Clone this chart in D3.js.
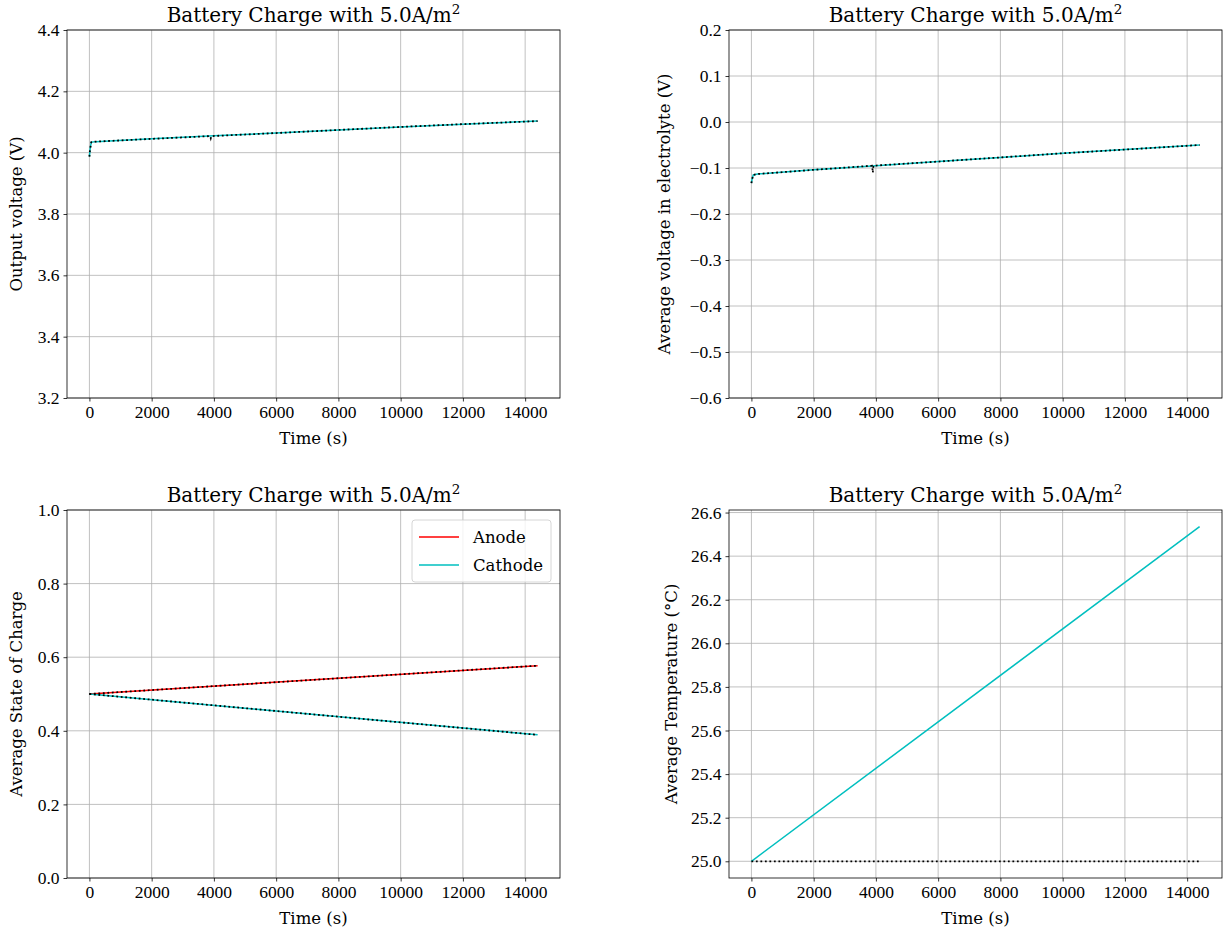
<html>
<head>
<meta charset="utf-8">
<script src="https://d3js.org/d3.v7.min.js"></script>
<style>
  body { margin: 0; background: #fff; }
  text { font-family: "DejaVu Serif", serif; fill: #000; }
  .grid line { stroke: #b0b0b0; stroke-width: 0.8px; }
  .axis path { stroke: #000; stroke-width: 0.8px; }
  .axis line { stroke: #000; stroke-width: 0.8px; }
  .axis text { font-family: "Liberation Serif", serif; font-size: 17.5px; }
</style>
</head>
<body>
<div id="chart"></div>
<script>
// ---- data ----
var xTicks = [0, 2000, 4000, 6000, 8000, 10000, 12000, 14000];

var timeSim = [0, 20, 60, 200, 2000, 4000, 6000, 8000, 10000, 12000, 14400];
var voltageOut = [3.987, 4.010, 4.034, 4.036, 4.045, 4.055, 4.064, 4.074, 4.084, 4.093, 4.103];
var voltageElyte = [-0.133, -0.125, -0.115, -0.113, -0.104, -0.095, -0.086, -0.077, -0.068, -0.060, -0.050];

var timeRef = [0, 20, 60, 200, 2000, 3880, 3900, 3920, 6000, 8000, 10000, 12000, 14400];
var voltageOutRef = [3.987, 4.010, 4.034, 4.036, 4.045, 4.054, 4.047, 4.054, 4.064, 4.074, 4.084, 4.093, 4.103];
var voltageElyteRef = [-0.133, -0.125, -0.115, -0.113, -0.104, -0.095, -0.110, -0.095, -0.086, -0.077, -0.068, -0.060, -0.050];

var timeSoc = [0, 14400];
var socAnode = [0.500, 0.577];
var socCathode = [0.500, 0.389];

var timeTemp = [0, 14400];
var tempSim = [25.0, 26.535];
var tempRef = [25.0, 25.0];

var yTicksV = [3.2, 3.4, 3.6, 3.8, 4.0, 4.2, 4.4];
var yTicksE = [-0.6, -0.5, -0.4, -0.3, -0.2, -0.1, 0.0, 0.1, 0.2];
var yTicksS = [0.0, 0.2, 0.4, 0.6, 0.8, 1.0];
var yTicksT = [25.0, 25.2, 25.4, 25.6, 25.8, 26.0, 26.2, 26.4, 26.6];

var W = 1227, H = 934;
var svg = d3.select("#chart").append("svg").attr("width", W).attr("height", H);

var fmt1 = function(d) { return d3.format(".1f")(d).replace("-", "\u2212"); };

function panel(box, yDomain, yTicks, ylabel, ylabelX) {
  var x = d3.scaleLinear().domain([-720, 15120]).range([box.x0, box.x1]);
  var y = d3.scaleLinear().domain(yDomain).range([box.y1, box.y0]);
  var g = svg.append("g");

  // grid
  var grid = g.append("g").attr("class", "grid");
  grid.selectAll("line.gx").data(xTicks).enter().append("line")
    .attr("x1", d => x(d)).attr("x2", d => x(d)).attr("y1", box.y0).attr("y2", box.y1);
  grid.selectAll("line.gy").data(yTicks).enter().append("line")
    .attr("x1", box.x0).attr("x2", box.x1).attr("y1", d => y(d)).attr("y2", d => y(d));

  // axes
  var ax = g.append("g").attr("class", "axis").attr("transform", "translate(0," + box.y1 + ")")
    .call(d3.axisBottom(x).tickValues(xTicks).tickFormat(d3.format("d")).tickSizeInner(3.5).tickSizeOuter(0).tickPadding(4));
  ax.select(".domain").remove();
  var ay = g.append("g").attr("class", "axis").attr("transform", "translate(" + box.x0 + ",0)")
    .call(d3.axisLeft(y).tickValues(yTicks).tickFormat(fmt1).tickSizeInner(3.5).tickSizeOuter(0).tickPadding(4));
  ay.select(".domain").remove();

  // frame
  g.append("rect").attr("x", box.x0).attr("y", box.y0)
    .attr("width", box.x1 - box.x0).attr("height", box.y1 - box.y0)
    .attr("fill", "none").attr("stroke", "#000").attr("stroke-width", 0.8);

  // title
  var t = g.append("text").attr("x", (box.x0 + box.x1) / 2).attr("y", box.y0 - 8)
    .attr("text-anchor", "middle").style("font-size", "20px");
  t.append("tspan").text("Battery Charge with 5.0A/m");
  t.append("tspan").attr("dy", -8).style("font-size", "13.5px").text("2");

  // axis labels
  g.append("text").attr("x", (box.x0 + box.x1) / 2).attr("y", box.y1 + 46)
    .attr("text-anchor", "middle").style("font-size", "16.5px").text("Time (s)");
  g.append("text").attr("transform", "translate(" + ylabelX + "," + ((box.y0 + box.y1) / 2) + ") rotate(-90)")
    .attr("text-anchor", "middle").style("font-size", "16.5px").text(ylabel);

  var lines = g.append("g");
  return { x: x, y: y, g: lines };
}

function drawLine(p, xs, ys, color, dotted) {
  var line = d3.line().x((d, i) => p.x(xs[i])).y(d => p.y(d));
  var path = p.g.append("path").datum(ys).attr("d", line)
    .attr("fill", "none").attr("stroke", color).attr("stroke-width", 1.5);
  if (dotted) path.attr("stroke-width", 1.8).attr("stroke-dasharray", "1.8,2.7");
}

var pA = panel({ x0: 67, x1: 560, y0: 30, y1: 398 }, [3.2, 4.4], yTicksV, "Output voltage (V)", 22);
drawLine(pA, timeSim, voltageOut, "#00bfbf", false);
drawLine(pA, timeRef, voltageOutRef, "#000", true);

var pB = panel({ x0: 729, x1: 1222, y0: 30, y1: 398 }, [-0.6, 0.2], yTicksE, "Average voltage in electrolyte (V)", 670);
drawLine(pB, timeSim, voltageElyte, "#00bfbf", false);
drawLine(pB, timeRef, voltageElyteRef, "#000", true);

var pC = panel({ x0: 67, x1: 560, y0: 510, y1: 878 }, [0, 1], yTicksS, "Average State of Charge", 22);
drawLine(pC, timeSoc, socAnode, "#ff0000", false);
drawLine(pC, timeSoc, socCathode, "#00bfbf", false);
drawLine(pC, timeSoc, socAnode, "#000", true);
drawLine(pC, timeSoc, socCathode, "#000", true);

var pD = panel({ x0: 729, x1: 1222, y0: 510, y1: 878 }, [24.9233, 26.6117], yTicksT, "Average Temperature (\u00b0C)", 677);
drawLine(pD, timeTemp, tempSim, "#00bfbf", false);
drawLine(pD, timeTemp, tempRef, "#000", true);

// legend
var legendItems = [{ name: "Anode", color: "#ff0000" }, { name: "Cathode", color: "#00bfbf" }];
var lg = svg.append("g").attr("transform", "translate(412,520)");
lg.append("rect").attr("width", 139).attr("height", 62).attr("rx", 3)
  .attr("fill", "#fff").attr("fill-opacity", 0.8).attr("stroke", "#cccccc").attr("stroke-width", 0.8);
legendItems.forEach(function(d, i) {
  var yy = 17 + i * 28;
  lg.append("line").attr("x1", 7).attr("x2", 47).attr("y1", yy).attr("y2", yy)
    .attr("stroke", d.color).attr("stroke-width", 1.5);
  lg.append("text").attr("x", 61).attr("y", yy + 6).style("font-size", "16.5px").text(d.name);
});
</script>
</body>
</html>
